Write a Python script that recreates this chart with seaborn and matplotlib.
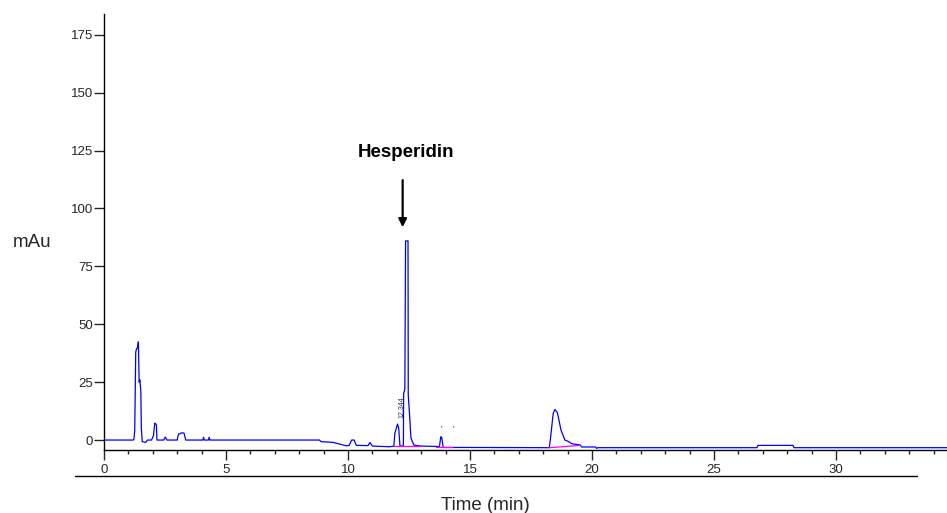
import numpy as np
import pandas as pd
import matplotlib
matplotlib.use("Agg")
import matplotlib.pyplot as plt
import seaborn as sns
from matplotlib.lines import Line2D

# chromatogram trace (time in min, signal in mAu)
time = [0.0, 1.20, 1.23, 1.26, 1.30, 1.34, 1.37, 1.41, 1.44, 1.47, 1.51, 1.53, 1.57,
        1.71, 1.78, 1.95, 2.03, 2.08, 2.12, 2.15, 2.17, 2.45, 2.51, 2.58, 3.00, 3.05,
        3.19, 3.28, 3.35, 4.05, 4.08, 4.11, 4.28, 4.31, 4.34, 8.83, 8.9, 9.38, 9.93,
        10.05, 10.15, 10.25, 10.34, 10.82, 10.9, 11.0, 11.7, 11.88, 11.92, 12.03, 12.08,
        12.13, 12.27, 12.28, 12.33, 12.36, 12.46, 12.47, 12.52, 12.58, 12.70, 13.0,
        13.75, 13.80, 13.84, 13.9, 15.0, 18.25, 18.30, 18.41, 18.48, 18.58, 18.66,
        18.73, 18.89, 19.03, 19.17, 19.51, 19.58, 20.15, 20.19, 20.25, 26.76, 26.80,
        28.24, 28.28, 34.6]
signal = [0.0, 0.0, 0.5, 4.3, 38.0, 39.5, 39.7, 42.4, 25.0, 26.0, 20.9, 5.0, -0.7,
          -1.0, 0.0, 0.0, 2.0, 7.3, 7.0, 6.5, 0.0, 0.0, 1.3, 0.0, 0.0, 2.5,
          3.1, 3.0, 0.0, 0.0, 1.2, 0.0, 0.0, 1.2, 0.0, 0.0, -0.7, -1.0, -2.5,
          -2.3, 0.0, 0.0, -2.3, -2.4, -1.1, -2.6, -2.9, -2.6, 2.9, 6.9, 5.0,
          -2.6, -2.6, 20.0, 22.0, 86.0, 86.0, 19.4, 11.5, 0.9, -2.2, -2.6,
          -2.8, 1.4, 1.2, -3.2, -3.2, -3.3, 0.7, 11.5, 13.2, 11.9, 7.9,
          4.3, 0.0, -0.6, -1.6, -2.1, -3.0, -3.0, -3.6, -3.3, -3.3, -2.3,
          -2.3, -3.3, -3.3]

# integration baselines (magenta)
base1_t = [11.9, 13.0]
base1_y = [-2.6, -2.6]
base2_t = [13.6, 14.28]
base2_y = [-3.2, -3.2]
base3_t = [18.25, 18.9, 19.5]
base3_y = [-3.3, -2.8, -2.3]

df = pd.DataFrame({"time": time, "signal": signal})

sns.set_style("white")
plt.rcParams["font.family"] = ["Liberation Sans", "DejaVu Sans"]

fig = plt.figure(figsize=(9.47, 5.13), dpi=100)
ax = fig.add_axes([104 / 947, 1 - 450 / 513, 1 - 104 / 947, (450 - 14) / 513])

sns.lineplot(data=df, x="time", y="signal", sort=False, estimator=None,
             color="#0000ff", lw=0.9, ax=ax)
for bt, by in [(base1_t, base1_y), (base2_t, base2_y), (base3_t, base3_y)]:
    sns.lineplot(x=bt, y=by, sort=False, estimator=None, color="#ff00ff", lw=0.9, ax=ax)

ax.set_xlim(0, 34.55)
ax.set_ylim(-4.3, 184)

for s in ["top", "right"]:
    ax.spines[s].set_visible(False)
for s in ["left", "bottom"]:
    ax.spines[s].set_color("black")
    ax.spines[s].set_linewidth(1.0)

ax.set_xticks(np.arange(0, 35, 5))
ax.set_xticks(np.arange(0, 35, 1), minor=True)
ax.set_yticks(np.arange(0, 176, 25))
ax.tick_params(axis="x", which="major", direction="out", length=7, width=1, pad=3,
               labelsize=9.5, bottom=True)
ax.tick_params(axis="x", which="minor", direction="out", length=3, width=1, bottom=True)
ax.tick_params(axis="y", which="major", direction="out", length=7, width=1, pad=1,
               labelsize=9.5, left=True)
ax.set_xlabel("")
ax.set_ylabel("")
ax.grid(False)

# annotation
ax.annotate("", xy=(12.24, 90.7), xytext=(12.24, 113.5),
            arrowprops=dict(arrowstyle="-|>", color="black", lw=1.6, mutation_scale=12))
ax.text(12.36, 124, "Hesperidin", ha="center", va="center", fontsize=13.5,
        fontweight="bold", color="black")
ax.text(12.22, 14, "12.344", rotation=90, ha="center", va="center", fontsize=5,
        color="#333333")
ax.text(13.82, 5, "'", ha="center", va="center", fontsize=6, color="black")
ax.text(14.3, 5, "'", ha="center", va="center", fontsize=6, color="black")

# secondary line under the axis and labels
fig.add_artist(Line2D([75 / 947, 917 / 947], [1 - 475.5 / 513, 1 - 475.5 / 513],
                      color="black", lw=1.0))
fig.text(485 / 947, 1 - 505 / 513, "Time (min)", ha="center", va="center", fontsize=13.5)
fig.text(32 / 947, 1 - 243 / 513, "mAu", ha="center", va="center", fontsize=13.5)

fig.savefig("out.png", dpi=100)
